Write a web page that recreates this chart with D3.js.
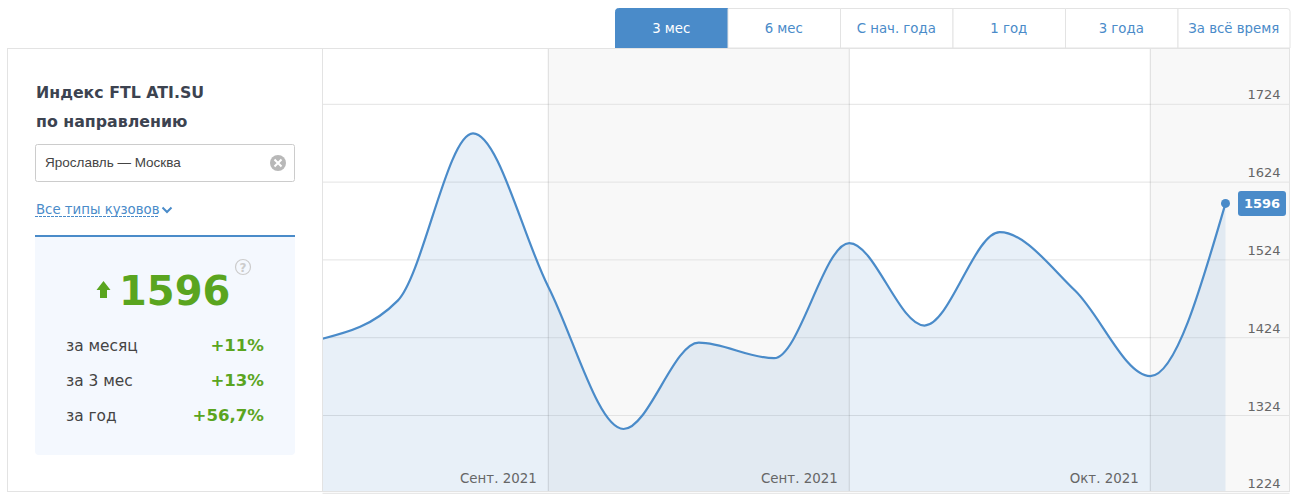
<!DOCTYPE html>
<html>
<head>
<meta charset="utf-8">
<script src="https://cdn.jsdelivr.net/npm/d3@7"></script>
<style>
  html, body { margin: 0; background: #fff; overflow: hidden; }
  text { font-family: "DejaVu Sans", sans-serif; }
</style>
</head>
<body>
<div id="chart"></div>
<script>
const weeks = [0, 1, 2, 3, 4, 5, 6, 7, 8, 9, 10, 11, 12];
const index = [1422, 1471, 1686, 1489, 1306, 1417, 1397, 1545, 1439, 1559, 1484, 1374, 1596];
const yTicks = [1224, 1324, 1424, 1524, 1624, 1724];
const monthWeeks = [3, 7, 11];
const monthLabels = ["Сент. 2021", "Сент. 2021", "Окт. 2021"];
const tabs = ["3 мес", "6 мес", "С нач. года", "1 год", "3 года", "За всё время"];
const statLabels = ["за месяц", "за 3 мес", "за год"];
const statValues = ["+11%", "+13%", "+56,7%"];

const blue = "#4a8bc9", green = "#5aa51f", line = "#e3e3e3";

const svg = d3.select("#chart").append("svg")
  .attr("width", 1292)
  .attr("height", 501)
  .style("display", "block");

const x = d3.scaleLinear().domain([0, 12]).range([322.5, 1225.5]);
const y = d3.scaleLinear().domain([1224, 1724]).range([492.8, 103.8]);

const plotTop = 48.5, plotBottom = 491.5, plotLeft = 322.5, plotRight = 1289.5;

// tabs
const tabX = d3.scaleBand().domain(tabs).range([615, 1290]);
const tab = svg.selectAll(".tab").data(tabs).enter().append("g").attr("class", "tab");
tab.append("path")
   .attr("d", (d, i) => {
     const x0 = tabX(d) + .5, x1 = x0 + tabX.bandwidth(), r = 3;
     if (i == 0) return `M${x0},48 V${8.5 + r} Q${x0},8.5 ${x0 + r},8.5 H${x1} V48 Z`;
     if (i == 5) return `M${x0},48 V8.5 H${x1 - r - .5} Q${x1 - .5},8.5 ${x1 - .5},${8.5 + r} V48 Z`;
     return `M${x0},48 V8.5 H${x1} V48 Z`;
   })
   .attr("fill", (d, i) => i == 0 ? blue : "#fff")
   .attr("stroke", (d, i) => i == 0 ? blue : line);
tab.append("text")
   .attr("x", d => tabX(d) + tabX.bandwidth() / 2)
   .attr("y", 33)
   .attr("text-anchor", "middle")
   .attr("font-size", 13.3)
   .attr("fill", (d, i) => i == 0 ? "#fff" : blue)
   .text(d => d);

// chart background stripes
svg.append("rect").attr("x", plotLeft).attr("y", plotTop).attr("width", plotRight - plotLeft).attr("height", plotBottom - plotTop).attr("fill", "#fff");
const stripes = [[x(monthWeeks[0]), x(monthWeeks[1])], [x(monthWeeks[2]), plotRight]];
svg.selectAll(".stripe").data(stripes).enter().append("rect")
   .attr("x", d => d[0])
   .attr("y", plotTop)
   .attr("width", d => d[1] - d[0])
   .attr("height", plotBottom - plotTop)
   .attr("fill", "#f8f8f8");

// gridlines and y labels
const yAxis = svg.append("g")
  .attr("transform", `translate(${plotRight},0)`)
  .call(d3.axisLeft(y).tickValues(yTicks).tickSize(plotRight - plotLeft).tickPadding(0).tickFormat(d3.format("d")));
yAxis.select(".domain").remove();
yAxis.selectAll("line").attr("stroke", line);
yAxis.selectAll("text")
     .attr("x", -9)
     .attr("dy", "-5")
     .attr("text-anchor", "end")
     .attr("font-size", 13)
     .attr("fill", "#666");

// area and line
svg.append("clipPath").attr("id", "plot").append("rect")
   .attr("x", plotLeft).attr("y", plotTop).attr("width", plotRight - plotLeft).attr("height", plotBottom - plotTop);

svg.append("path")
   .datum(weeks)
   .attr("clip-path", "url(#plot)")
   .attr("fill", blue)
   .attr("fill-opacity", .13)
   .attr("d", d3.area().x(d => x(d)).y0(y(1224)).y1(d => y(index[d])).curve(d3.curveMonotoneX));

svg.selectAll(".month").data(monthWeeks).enter().append("line")
   .attr("x1", d => x(d)).attr("x2", d => x(d))
   .attr("y1", plotTop).attr("y2", plotBottom)
   .attr("stroke", "#000").attr("stroke-opacity", .12);

svg.append("path")
   .datum(weeks)
   .attr("fill", "none")
   .attr("stroke", blue)
   .attr("stroke-width", 2.2)
   .attr("d", d3.line().x(d => x(d)).y(d => y(index[d])).curve(d3.curveMonotoneX));

svg.selectAll(".monthLabel").data(monthWeeks).enter().append("text")
   .attr("x", d => x(d) - 11.5)
   .attr("y", 483)
   .attr("text-anchor", "end")
   .attr("font-size", 13.4)
   .attr("fill", "#666")
   .text((d, i) => monthLabels[i]);

// last value marker
const last = index[index.length - 1];
svg.append("circle").attr("cx", x(12)).attr("cy", y(last)).attr("r", 4.5).attr("fill", blue);
svg.append("rect").attr("x", 1238).attr("y", 191).attr("width", 48).attr("height", 25).attr("rx", 3).attr("fill", blue);
svg.append("text").attr("x", 1262).attr("y", 208).attr("text-anchor", "middle")
   .attr("font-size", 13).attr("font-weight", "bold").attr("fill", "#fff").text(last);

// frame
svg.append("rect").attr("x", 7.5).attr("y", plotTop).attr("width", plotRight - 7.5).attr("height", plotBottom - plotTop)
   .attr("fill", "none").attr("stroke", line);
svg.append("line").attr("x1", plotLeft).attr("x2", plotLeft).attr("y1", plotTop).attr("y2", plotBottom).attr("stroke", line);

// left panel
svg.selectAll(".title").data(["Индекс FTL ATI.SU", "по направлению"]).enter().append("text")
   .attr("x", 36).attr("y", (d, i) => 98 + i * 29)
   .attr("font-size", 15.8).attr("font-weight", "bold").attr("fill", "#3c4350").text(d => d);

svg.append("rect").attr("x", 35.5).attr("y", 144.5).attr("width", 259).attr("height", 37).attr("rx", 2)
   .attr("fill", "#fff").attr("stroke", "#ccc");
svg.append("text").attr("x", 45).attr("y", 167).attr("font-size", 13.5).style("font-family", "Liberation Sans")
   .attr("fill", "#444").text("Ярославль — Москва");
svg.append("circle").attr("cx", 278).attr("cy", 163).attr("r", 8).attr("fill", "#b8b8b8");
svg.append("path").attr("d", "M274.5,159.5 L281.5,166.5 M281.5,159.5 L274.5,166.5").attr("stroke", "#fff").attr("stroke-width", 2);

svg.append("text").attr("x", 36).attr("y", 214).attr("font-size", 13.3).attr("fill", blue).text("Все типы кузовов");
svg.append("line").attr("x1", 35).attr("x2", 159).attr("y1", 216.5).attr("y2", 216.5)
   .attr("stroke", blue).attr("stroke-dasharray", "3,1");
svg.append("path").attr("d", "M162.5,207.5 L167,212 L171.5,207.5").attr("fill", "none").attr("stroke", blue).attr("stroke-width", 2);

svg.append("path").attr("d", "M35,235 H295 V451 Q295,455 291,455 H39 Q35,455 35,451 Z").attr("fill", "#f4f8fe");
svg.append("rect").attr("x", 35).attr("y", 235).attr("width", 260).attr("height", 2).attr("fill", blue);

svg.append("path").attr("d", "M103.5,281 L110.5,290 L107,290 L107,298 L100,298 L100,290 L96.5,290 Z").attr("fill", green);
svg.append("text").attr("x", 119).attr("y", 305).attr("font-size", 40).attr("font-weight", "bold").attr("fill", green).text(last);

svg.append("circle").attr("cx", 243).attr("cy", 267).attr("r", 7.5).attr("fill", "none").attr("stroke", "#ccc").attr("stroke-width", 1.2);
svg.append("text").attr("x", 243).attr("y", 271.5).attr("text-anchor", "middle").attr("font-size", 12).attr("font-weight", "bold").attr("fill", "#ccc").text("?");

svg.selectAll(".statLabel").data(statLabels).enter().append("text")
   .attr("x", 66).attr("y", (d, i) => 351 + i * 35)
   .attr("font-size", 15.4).attr("fill", "#444").text(d => d);
svg.selectAll(".statValue").data(statValues).enter().append("text")
   .attr("x", 264).attr("y", (d, i) => 351 + i * 35)
   .attr("text-anchor", "end")
   .attr("font-size", 16.6).attr("font-weight", "bold").attr("fill", green).text(d => d);
</script>
</body>
</html>
